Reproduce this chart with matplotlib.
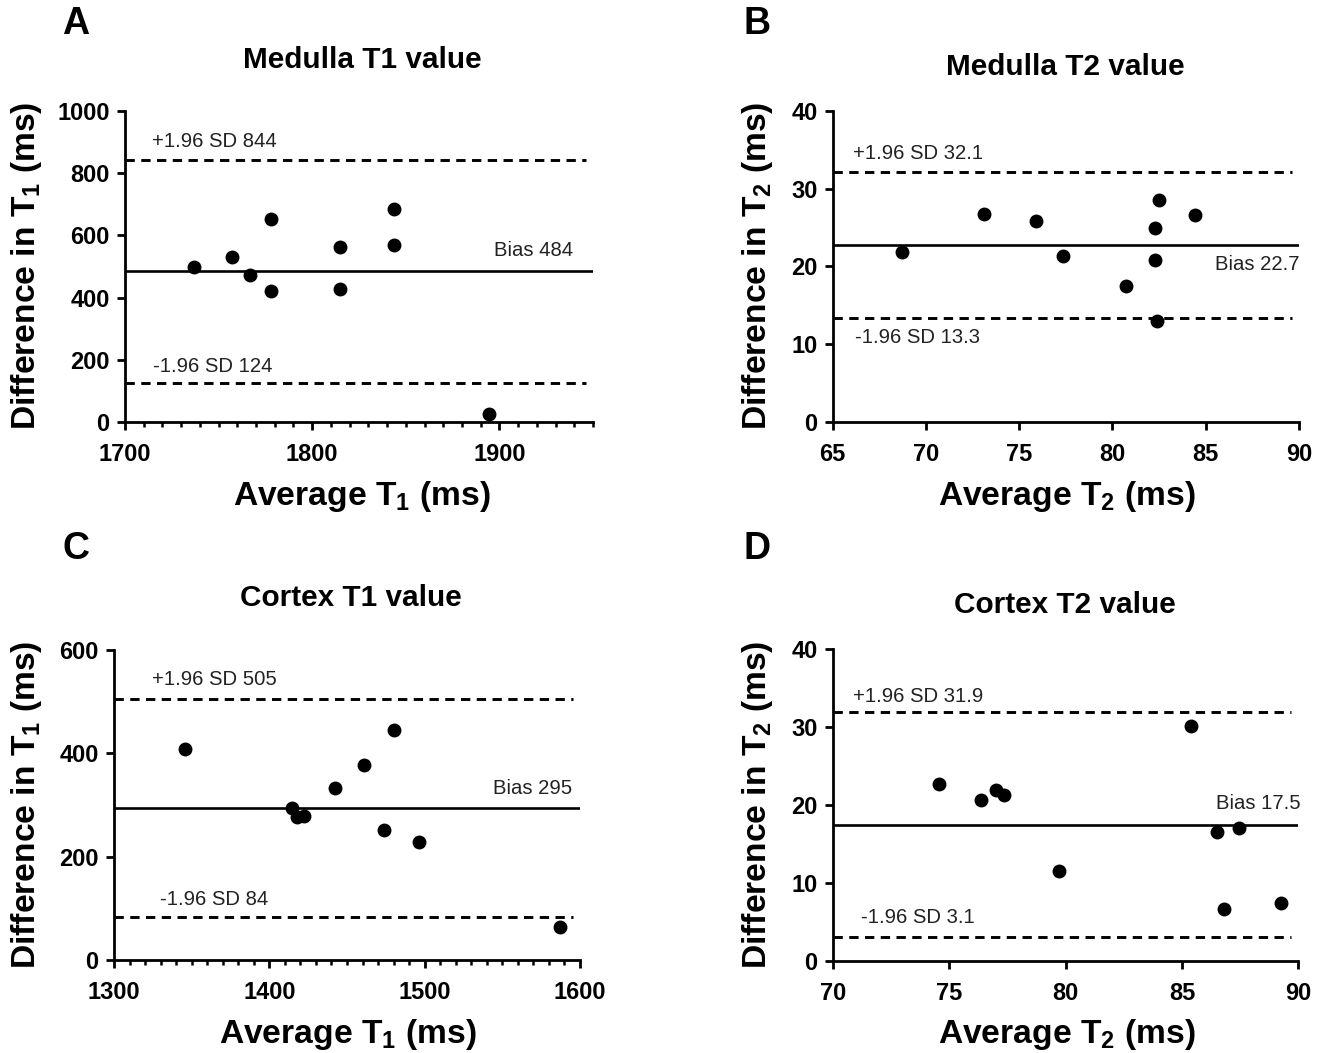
import matplotlib
matplotlib.use("Agg")
import matplotlib.pyplot as plt
from matplotlib.ticker import MultipleLocator
import matplotlib.transforms as mtransforms

plt.rcParams['font.family'] = ['Liberation Sans', 'DejaVu Sans']
plt.rcParams['mathtext.fontset'] = 'custom'
plt.rcParams['mathtext.rm'] = 'Liberation Sans:bold'
plt.rcParams['mathtext.bf'] = 'Liberation Sans:bold'
plt.rcParams['mathtext.default'] = 'bf'

# ---------------- data ----------------
# Panel A: Medulla T1
a_avg = [1737, 1757, 1767, 1778, 1778, 1815, 1815, 1843.5, 1843.5, 1894.6]
a_diff = [499, 531, 473, 654, 421, 564, 428, 686, 568, 25]
a_bias, a_upper, a_lower = 484, 844, 124

# Panel B: Medulla T2
b_avg = [68.7, 73.1, 75.9, 77.35, 80.7, 82.3, 82.5, 82.3, 82.4, 84.4]
b_diff = [21.8, 26.7, 25.9, 21.3, 17.5, 24.9, 28.5, 20.8, 13.0, 26.65]
b_bias, b_upper, b_lower = 22.7, 32.1, 13.3

# Panel C: Cortex T1
c_avg = [1345.7, 1414.8, 1418, 1422, 1442, 1461, 1480, 1474, 1496.6, 1587]
c_diff = [409, 295, 276, 279, 332, 377, 445, 251, 229, 63]
c_bias, c_upper, c_lower = 295, 505, 84

# Panel D: Cortex T2
d_avg = [74.55, 76.36, 77.0, 77.36, 79.7, 85.4, 86.5, 87.47, 86.8, 89.26]
d_diff = [22.7, 20.7, 21.9, 21.3, 11.5, 30.1, 16.5, 17.1, 6.7, 7.5]
d_bias, d_upper, d_lower = 17.5, 31.9, 3.1

titles = ["Medulla T1 value", "Medulla T2 value", "Cortex T1 value", "Cortex T2 value"]
letters = ["A", "B", "C", "D"]
xlabels = ["Average T$_1$ (ms)", "Average T$_2$ (ms)", "Average T$_1$ (ms)", "Average T$_2$ (ms)"]
ylabels = ["Difference in T$_1$ (ms)", "Difference in T$_2$ (ms)",
           "Difference in T$_1$ (ms)", "Difference in T$_2$ (ms)"]

W, H = 1323, 1053
fig = plt.figure(figsize=(W / 100, H / 100), dpi=100)

def px_axes(l, r, t, b):
    return [l / W, 1 - b / H, (r - l) / W, (b - t) / H]

panels = [
    dict(rect=px_axes(125, 593, 111, 422), x=a_avg, y=a_diff, bias=a_bias, up=a_upper, lo=a_lower,
         xlim=(1700, 1950), xmaj=100, xmin=10, ylim=(0, 1000), ymaj=200,
         fmt="{:.0f}", upx=0.057, lox=0.060, bx=0.957,
         upoff=17.6, boff=21, looff=16.5,
         title_xy=(362, 60), letter_xy=(76, 24), xl_xy=(362, 497), yl_xy=(27, 266)),
    dict(rect=px_axes(832.7, 1299, 111, 421.7), x=b_avg, y=b_diff, bias=b_bias, up=b_upper, lo=b_lower,
         xlim=(65, 90), xmaj=5, xmin=None, ylim=(0, 40), ymaj=10,
         fmt="{:.1f}", upx=0.044, lox=0.048, bx=1.002,
         upoff=19, boff=-19, looff=-19,
         title_xy=(1065, 67), letter_xy=(757, 24), xl_xy=(1067, 497), yl_xy=(757, 266)),
    dict(rect=px_axes(114, 580, 650, 960), x=c_avg, y=c_diff, bias=c_bias, up=c_upper, lo=c_lower,
         xlim=(1300, 1600), xmaj=100, xmin=10, ylim=(0, 600), ymaj=200,
         fmt="{:.0f}", upx=0.081, lox=0.099, bx=0.984,
         upoff=20, boff=19, looff=17,
         title_xy=(351, 598), letter_xy=(76, 549), xl_xy=(348, 1035), yl_xy=(27, 805)),
    dict(rect=px_axes(832.7, 1298.3, 649.3, 961), x=d_avg, y=d_diff, bias=d_bias, up=d_upper, lo=d_lower,
         xlim=(70, 90), xmaj=5, xmin=None, ylim=(0, 40), ymaj=10,
         fmt="{:.1f}", upx=0.044, lox=0.060, bx=1.004,
         upoff=16, boff=21, looff=19,
         title_xy=(1065, 605), letter_xy=(757, 549), xl_xy=(1067, 1035), yl_xy=(757, 805)),
]

lw = 1.9
for i, p in enumerate(panels):
    ax = fig.add_axes(p["rect"])
    ax.set_xlim(*p["xlim"])
    ax.set_ylim(*p["ylim"])
    for s in ["top", "right"]:
        ax.spines[s].set_visible(False)
    for s in ["left", "bottom"]:
        ax.spines[s].set_linewidth(2.0)
    ax.xaxis.set_major_locator(MultipleLocator(p["xmaj"]))
    ax.yaxis.set_major_locator(MultipleLocator(p["ymaj"]))
    if p["xmin"]:
        ax.xaxis.set_minor_locator(MultipleLocator(p["xmin"]))
    ax.tick_params(axis="both", which="major", direction="out", length=6, width=2.0,
                   labelsize=17, pad=5)
    ax.tick_params(axis="x", which="major", pad=9)
    ax.tick_params(axis="x", which="minor", direction="out", length=3.5, width=1.8)
    for lab in ax.get_xticklabels() + ax.get_yticklabels():
        lab.set_fontweight("bold")

    ax.axhline(p["bias"], color="black", lw=lw, solid_capstyle="butt")
    for v in (p["up"], p["lo"]):
        ax.axhline(v, color="black", lw=2.1, dashes=(3.2, 2.2), xmax=0.985)

    ax.plot(p["x"], p["y"], "o", color="black", markersize=9, clip_on=False, zorder=5)

    trans = mtransforms.blended_transform_factory(ax.transAxes, ax.transData)
    txt_kw = dict(fontsize=14.6, color="#222222", va="center", xycoords=trans,
                  textcoords="offset points")
    ax.annotate("+1.96 SD " + p["fmt"].format(p["up"]), xy=(p["upx"], p["up"]),
                xytext=(0, p["upoff"] * 0.72), ha="left", **txt_kw)
    ax.annotate("Bias " + p["fmt"].format(p["bias"]), xy=(p["bx"], p["bias"]),
                xytext=(0, p["boff"] * 0.72), ha="right", **txt_kw)
    ax.annotate("-1.96 SD " + p["fmt"].format(p["lo"]), xy=(p["lox"], p["lo"]),
                xytext=(0, p["looff"] * 0.72), ha="left", **txt_kw)

    tx, ty = p["title_xy"]
    fig.text(tx / W, 1 - ty / H, titles[i], fontsize=21.4, fontweight="bold",
             ha="center", va="center")
    lx, ly = p["letter_xy"]
    fig.text(lx / W, 1 - ly / H, letters[i], fontsize=27, fontweight="bold",
             ha="center", va="center")
    xx, xy = p["xl_xy"]
    fig.text(xx / W, 1 - xy / H, xlabels[i], fontsize=24.2, fontweight="bold",
             ha="center", va="center")
    yx, yy = p["yl_xy"]
    fig.text(yx / W, 1 - yy / H, ylabels[i], fontsize=24.2, fontweight="bold",
             ha="center", va="center", rotation=90)

fig.savefig("out.png", dpi=100, facecolor="white")
